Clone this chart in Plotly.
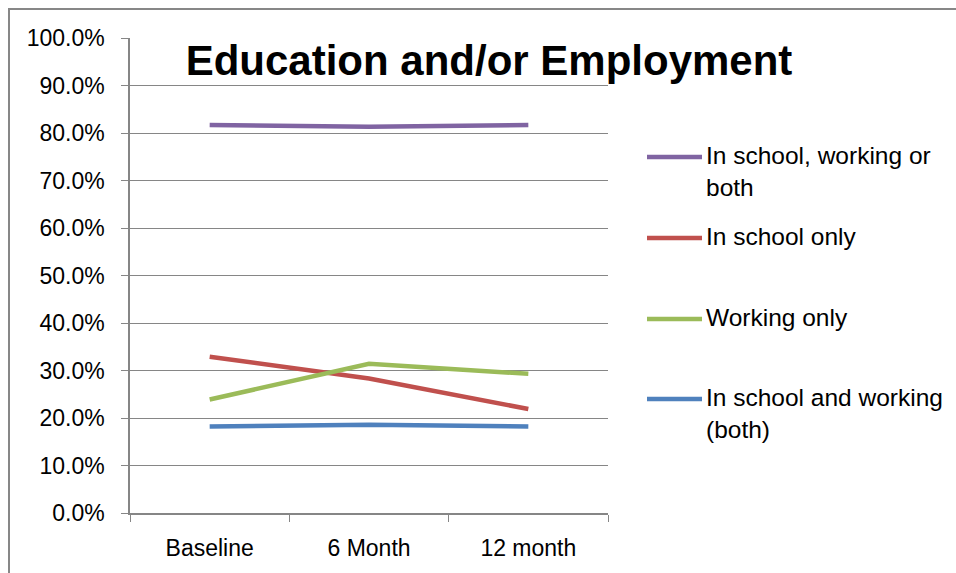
import plotly.graph_objects as go

categories = ["Baseline", "6 Month", "12 month"]
series_names = ["In school, working or<br>both", "In school only", "Working only", "In school and working<br>(both)"]
purple_vals = [0.817, 0.813, 0.817]
red_vals = [0.329, 0.283, 0.219]
green_vals = [0.239, 0.314, 0.293]
blue_vals = [0.182, 0.186, 0.182]
colors = ["#8064A2", "#C0504D", "#9BBB59", "#4F81BD"]
title_text = "Education and/or Employment"

W, H = 956, 573
L, R, T, B = 130, 608, 38, 513

def px_x(p):
    return (p - L) / (R - L)

def px_y(p):
    return (B - p) / (B - T)

FONT = "Liberation Sans, Arial, sans-serif"

fig = go.Figure()
all_vals = [purple_vals, red_vals, green_vals, blue_vals]
for name, vals, col in zip(series_names, all_vals, colors):
    fig.add_trace(go.Scatter(x=categories, y=vals, mode="lines", name=name.replace("<br>", " "),
                             line=dict(color=col, width=4.5), showlegend=False))

# custom legend
legend_y = [157, 238, 319, 399]
shapes = []
annotations = []
for name, col, ly in zip(series_names, colors, legend_y):
    shapes.append(dict(type="line", xref="paper", yref="paper",
                       x0=px_x(647), x1=px_x(702), y0=px_y(ly), y1=px_y(ly),
                       line=dict(color=col, width=4.5)))
    annotations.append(dict(xref="paper", yref="paper", x=px_x(704), y=px_y(ly - 17),
                            xanchor="left", yanchor="top", text=name, showarrow=False,
                            align="left", font=dict(family=FONT, size=24.5, color="#000000")))

# outer border
shapes.append(dict(type="rect", xref="paper", yref="paper",
                   x0=px_x(9), x1=px_x(990), y0=px_y(600), y1=px_y(9),
                   line=dict(color="#878787", width=2), fillcolor="rgba(0,0,0,0)", layer="above"))

fig.update_layout(
    width=W, height=H,
    margin=dict(l=L, r=W - R, t=T, b=H - B),
    paper_bgcolor="white", plot_bgcolor="white",
    title=dict(text="<b>" + title_text + "</b>", xref="paper", x=px_x(489), xanchor="center",
               yref="container", y=1 - 60 / H, yanchor="middle",
               font=dict(family=FONT, size=42, color="#000000")),
    shapes=shapes, annotations=annotations,
    showlegend=False,
    font=dict(family=FONT, size=23, color="#000000"),
)
fig.update_xaxes(type="category", range=[-0.5, 2.5], tickson="boundaries", ticks="outside",
                 ticklen=7, tickcolor="#868686", showline=True, linecolor="#868686", linewidth=1.5,
                 showgrid=False, zeroline=False, ticklabelstandoff=14,
                 tickfont=dict(family=FONT, size=23, color="#000000"))
fig.update_yaxes(range=[0, 1], dtick=0.1, tick0=0, tickformat=".1%", ticks="outside", ticklen=7,
                 tickcolor="#868686", showline=True, linecolor="#868686", linewidth=1.5,
                 showgrid=True, gridcolor="#868686", gridwidth=1, zeroline=False,
                 ticklabelstandoff=12, tickfont=dict(family=FONT, size=23, color="#000000"))

fig.write_html("out.html")
